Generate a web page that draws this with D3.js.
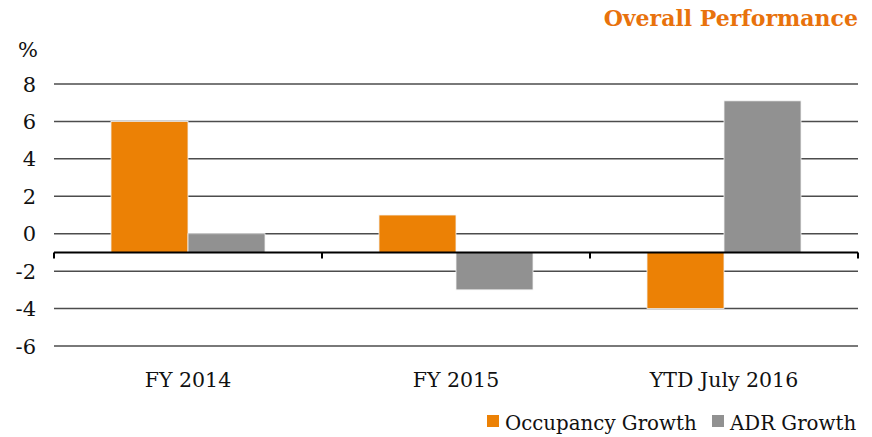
<!DOCTYPE html>
<html>
<head>
<meta charset="utf-8">
<script src="https://cdn.jsdelivr.net/npm/d3@7"></script>
<style>
    body { margin: 0; background: #fff; }
    text { font-family: "DejaVu Serif", serif; }
</style>
</head>
<body>
<svg id="chart"></svg>
<script>
// Chart data
const categories = ["FY 2014", "FY 2015", "YTD July 2016"];
const occupancy_growth = [6, 1, -4];
const adr_growth = [0, -3, 7.1];
const series_names = ["Occupancy Growth", "ADR Growth"];
const y_ticks = [-6, -4, -2, 0, 2, 4, 6, 8];
const axis_crossing = -1;

const colors = ["#ec8105", "#919191"];

// Dimensions
const width = 872, height = 437;
const plot = { left: 54, right: 858, top: 84, bottom: 346 };

const svg = d3.select("#chart")
    .attr("width", width)
    .attr("height", height);

// Scales
const x_scale = d3.scaleBand()
    .domain(categories)
    .range([plot.left, plot.right])
    .paddingInner(0)
    .paddingOuter(0);
const x_inner = d3.scaleBand()
    .domain(series_names)
    .range([0, x_scale.bandwidth()])
    .paddingOuter(0.74)
    .paddingInner(0);
const y_scale = d3.scaleLinear()
    .domain([-6, 8])
    .range([plot.bottom, plot.top]);

// Gridlines
svg.append("g")
    .selectAll("line")
    .data(y_ticks)
    .enter()
    .append("line")
    .attr("x1", plot.left)
    .attr("x2", plot.right)
    .attr("y1", d => y_scale(d))
    .attr("y2", d => y_scale(d))
    .attr("stroke", "#4d4d4d")
    .attr("stroke-width", 1.5);

// Y labels
svg.append("g")
    .selectAll("text")
    .data(y_ticks)
    .enter()
    .append("text")
    .attr("x", 36)
    .attr("y", d => y_scale(d))
    .attr("dy", "0.36em")
    .attr("text-anchor", "end")
    .attr("font-size", 21)
    .attr("fill", "#111")
    .text(d => d);

svg.append("text")
    .attr("x", 18)
    .attr("y", 57)
    .attr("font-size", 21)
    .attr("fill", "#111")
    .text("%");

// Bars
const rows = categories.map((c, i) => ({ cat: c, values: [occupancy_growth[i], adr_growth[i]] }));
const groups = svg.append("g")
    .selectAll("g")
    .data(rows)
    .enter()
    .append("g")
    .attr("transform", d => `translate(${x_scale(d.cat)},0)`);

groups.selectAll("rect")
    .data(d => d.values.map((v, j) => ({ name: series_names[j], value: v, j: j })))
    .enter()
    .append("rect")
    .attr("x", d => x_inner(d.name))
    .attr("width", x_inner.bandwidth())
    .attr("y", d => y_scale(Math.max(d.value, axis_crossing)))
    .attr("height", d => Math.abs(y_scale(d.value) - y_scale(axis_crossing)))
    .attr("fill", d => colors[d.j])
    .attr("stroke", "#f4f4f4")
    .attr("stroke-width", 0.8);

// Category axis crossing at -1
svg.append("line")
    .attr("x1", plot.left)
    .attr("x2", plot.right)
    .attr("y1", y_scale(axis_crossing))
    .attr("y2", y_scale(axis_crossing))
    .attr("stroke", "#000")
    .attr("stroke-width", 2);

const boundaries = categories.map(c => x_scale(c)).concat([plot.right]);
svg.append("g")
    .selectAll("line")
    .data(boundaries)
    .enter()
    .append("line")
    .attr("x1", d => d)
    .attr("x2", d => d)
    .attr("y1", y_scale(axis_crossing))
    .attr("y2", y_scale(axis_crossing) + 6)
    .attr("stroke", "#000")
    .attr("stroke-width", 2);

// Category labels
svg.append("g")
    .selectAll("text")
    .data(categories)
    .enter()
    .append("text")
    .attr("x", d => x_scale(d) + x_scale.bandwidth() / 2)
    .attr("y", 387)
    .attr("text-anchor", "middle")
    .attr("font-size", 20.5)
    .attr("fill", "#111")
    .text(d => d);

// Title
svg.append("text")
    .attr("x", 858)
    .attr("y", 26)
    .attr("text-anchor", "end")
    .attr("font-size", 22)
    .attr("font-weight", "bold")
    .attr("fill", "#e8720c")
    .text("Overall Performance");

// Legend
const legend_items = [
    { name: series_names[0], color: colors[0], x: 487 },
    { name: series_names[1], color: colors[1], x: 712 }
];
const legend = svg.append("g")
    .selectAll("g")
    .data(legend_items)
    .enter()
    .append("g")
    .attr("transform", d => `translate(${d.x},0)`);
legend.append("rect")
    .attr("x", 0)
    .attr("y", 415)
    .attr("width", 12)
    .attr("height", 12)
    .attr("fill", d => d.color);
legend.append("text")
    .attr("x", 18)
    .attr("y", 430)
    .attr("font-size", 19.8)
    .attr("fill", "#111")
    .text(d => d.name);
</script>
</body>
</html>
